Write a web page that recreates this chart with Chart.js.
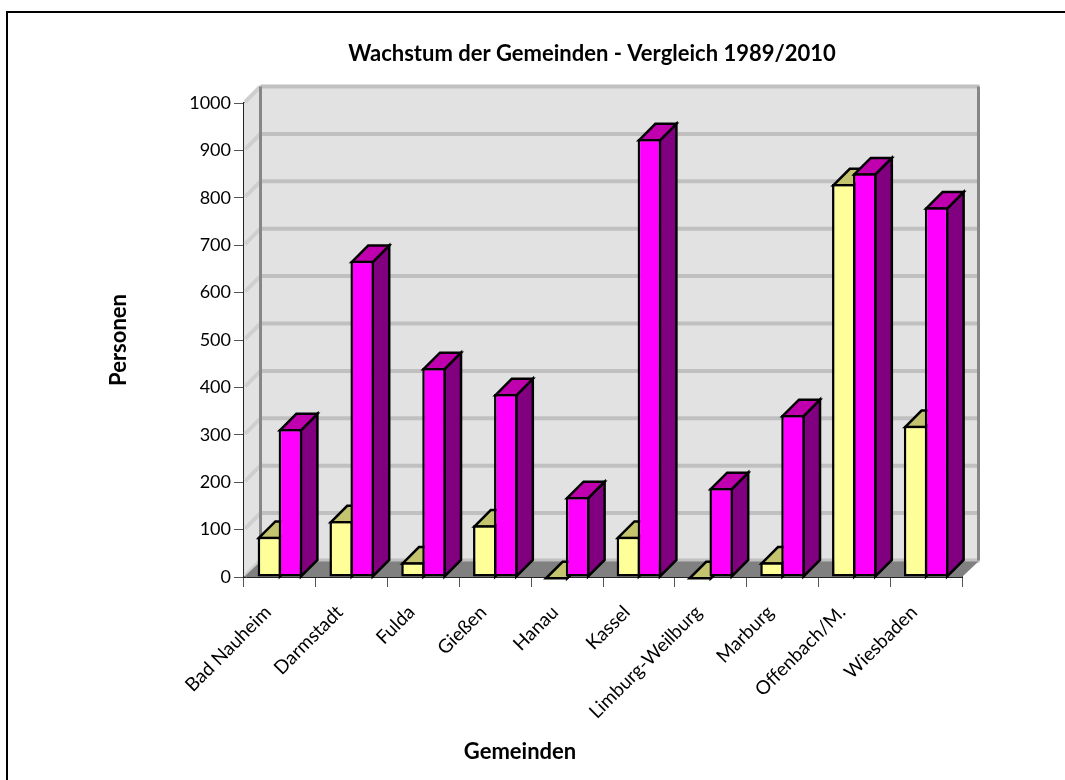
<!DOCTYPE html>
<html><head><meta charset="utf-8">
<style>html,body{margin:0;padding:0;background:#fff}#w{width:1065px;height:780px;position:relative}</style>
<script src="https://cdn.jsdelivr.net/npm/chart.js@4"></script>
</head><body><div id="w"><canvas id="c" width="1065" height="780"></canvas></div>
<script>
const categories = ['Bad Nauheim','Darmstadt','Fulda','Gießen','Hanau','Kassel','Limburg-Weilburg','Marburg','Offenbach/M.','Wiesbaden'];
const values1989 = [85,118,31,109,0,85,0,31,829,319];
const values2010 = [312,667,441,386,169,924,188,342,852,780];
const yTicks = [0,100,200,300,400,500,600,700,800,900,1000];
const DEPTH = 16.5;
const LW = 2.5;
const FONT = 'Lato, Carlito, sans-serif';

function poly(ctx, pts, fill, stroke, lw){
  ctx.beginPath();
  pts.forEach((p,i)=> i?ctx.lineTo(p[0],p[1]):ctx.moveTo(p[0],p[1]));
  ctx.closePath();
  if(fill){ctx.fillStyle=fill;ctx.fill();}
  if(stroke){ctx.strokeStyle=stroke;ctx.lineWidth=lw;ctx.lineJoin='miter';ctx.stroke();}
}
const box3d = {
  id:'box3d',
  afterLayout(chart){
    const tb=chart.titleBlock; tb.left=0; tb.right=1184;
    const x=chart.scales.x;
    if(!x._wrapped){
      const orig=x.drawTitle;
      x.drawTitle=function(){const l=this.left,r=this.right;this.left=l-83;this.right=r-83;orig.apply(this,arguments);this.left=l;this.right=r;};
      x._wrapped=true;
    }
  },
  beforeDatasetsDraw(chart){
    const {ctx,chartArea:a,scales:{y}} = chart, d=DEPTH;
    ctx.save();
    poly(ctx,[[a.left+d,a.top-d],[a.right+d,a.top-d],[a.right+d,a.bottom-d],[a.left+d,a.bottom-d]],'#e2e2e2');
    poly(ctx,[[a.left,a.top],[a.left+d,a.top-d],[a.left+d,a.bottom-d],[a.left,a.bottom]],'#e2e2e2');
    ctx.lineCap='butt';
    yTicks.forEach(t=>{
      const py=y.getPixelForValue(t);
      ctx.strokeStyle='#cfcfcf';ctx.lineWidth=4;
      ctx.beginPath();ctx.moveTo(a.left+1,py-1);ctx.lineTo(a.left+d,py-d);ctx.stroke();
      ctx.strokeStyle='#c0c0c0';
      ctx.beginPath();ctx.moveTo(a.left+d,py-d);ctx.lineTo(a.right+d+1,py-d);ctx.stroke();
    });
    ctx.strokeStyle='#868686';ctx.lineWidth=3;
    ctx.beginPath();ctx.moveTo(a.left+d,a.top-d);ctx.lineTo(a.left+d,a.bottom-d);ctx.stroke();
    ctx.beginPath();ctx.moveTo(a.right+d,a.top-d);ctx.lineTo(a.right+d,a.bottom-d);ctx.stroke();
    poly(ctx,[[a.left,a.bottom],[a.left+d,a.bottom-d+1],[a.right+d,a.bottom-d+1],[a.right,a.bottom]],'#808080');
    ctx.restore();
  },
  beforeDatasetDraw(){ return false; },
  afterDatasetsDraw(chart){
    const {ctx} = chart, d=DEPTH;
    ctx.save();
    chart.data.datasets.forEach((ds,i)=>{
      const meta=chart.getDatasetMeta(i);
      meta.data.forEach(bar=>{
        const p=bar.getProps(['x','y','base','width'],true);
        const l=p.x-p.width/2+1.25, r=p.x+p.width/2-1.25, t=p.y+1.25, b=p.base;
        poly(ctx,[[r,t],[r+d,t-d],[r+d,b-d],[r,b]],ds.sideColor,'#000',LW);
        poly(ctx,[[l,t],[l+d,t-d],[r+d,t-d],[r,t]],ds.topColor,'#000',LW);
      });
      meta.controller.draw();
    });
    ctx.restore();
  },
  afterDraw(chart){
    const ctx=chart.ctx;ctx.save();ctx.strokeStyle='#000';ctx.lineWidth=2;
    ctx.beginPath();ctx.moveTo(7,800);ctx.lineTo(7,12);ctx.lineTo(1080,12);ctx.stroke();ctx.restore();
  }
};
new Chart(document.getElementById('c'),{
  type:'bar',
  data:{labels:categories,datasets:[
    {label:'1989',data:values1989,backgroundColor:'#ffff99',borderColor:'#000',borderWidth:2.5,borderSkipped:false,topColor:'#c4c46e',sideColor:'#808000',categoryPercentage:0.585,barPercentage:1.12},
    {label:'2010',data:values2010,backgroundColor:'#ff00ff',borderColor:'#000',borderWidth:2.5,borderSkipped:false,topColor:'#c000ae',sideColor:'#800080',categoryPercentage:0.585,barPercentage:1.12}
  ]},
  options:{
    responsive:false,animation:false,
    layout:{padding:{left:106,right:103,top:0,bottom:0}},
    plugins:{legend:{display:false},tooltip:{enabled:false},
      title:{display:true,text:'Wachstum der Gemeinden - Vergleich 1989/2010',color:'#000',font:{family:FONT,size:22,weight:'bold'},padding:{top:41,bottom:35.6}}},
    scales:{
      x:{offset:true,
        afterFit(s){s.height=780-577;},
        grid:{display:true,drawOnChartArea:false,color:'#555',tickLength:10,offset:true},border:{color:'#222',width:2},
        title:{display:true,text:'Gemeinden',color:'#000',font:{family:FONT,size:22,weight:'bold'},padding:{top:0,bottom:15}},
        ticks:{color:'#000',font:{family:FONT,size:19},minRotation:45,maxRotation:45,autoSkip:false,labelOffset:-12,padding:14}},
      y:{min:0,max:1000,
        afterFit(s){s.width=138;},
        afterBuildTicks(s){s.ticks=yTicks.map(v=>({value:v}));},
        grid:{drawOnChartArea:false,color:'#555',tickLength:10},border:{color:'#222',width:2},
        title:{display:true,text:'Personen',color:'#000',font:{family:FONT,size:22,weight:'bold'},padding:{top:0,bottom:0}},
        ticks:{color:'#000',font:{family:FONT,size:18},padding:3,callback:v=>String(v)}}
    }
  },
  plugins:[box3d]
});
</script></body></html>
